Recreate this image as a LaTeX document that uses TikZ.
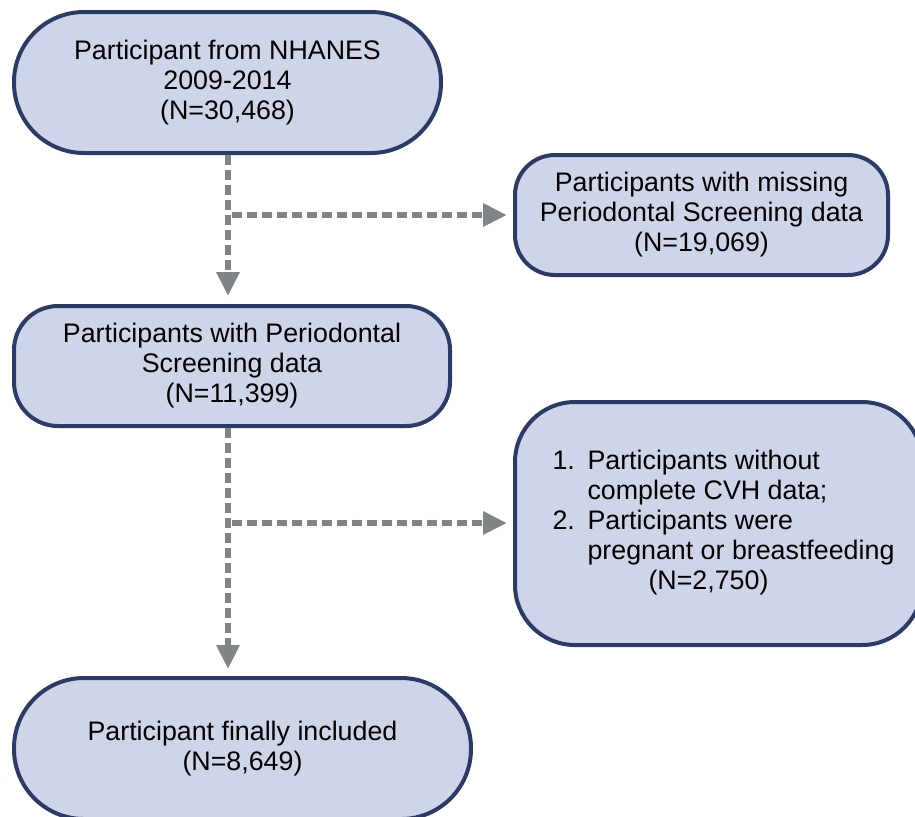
\documentclass[tikz,border=0pt]{standalone}
\usepackage{fontspec}
\setmainfont{Liberation Sans}
\usetikzlibrary{arrows.meta}
\usepackage{xcolor}
\definecolor{box_fill}{HTML}{CFD5E8}
\definecolor{box_line}{HTML}{2B3A67}
\definecolor{arrow_grey}{HTML}{7F8487}

\tikzset{
	flowbox/.style={draw=box_line, fill=box_fill, line width=2pt, rounded corners=#1, align=center, inner sep=0pt, font=\fontsize{13.4}{15}\selectfont},
	flowarrow/.style={draw=arrow_grey, line width=3pt, dash pattern=on 5pt off 2.5pt, -{Triangle[width=11pt,length=12pt]}},
}

\begin{document}
\begin{tikzpicture}[x=0.5pt, y=-0.5pt]
	\useasboundingbox (0,0) rectangle (915,816);
	\clip (0,0) rectangle (915,816);
	\node[flowbox=35pt, minimum width=213.5pt, minimum height=70.5pt] (nhanes) at (227.5,82.5) {Participant from NHANES\\2009-2014\\(N=30,468)};
	\node[flowbox=20pt, minimum width=186.5pt, minimum height=60pt] (missing) at (701.5,215) {Participants with missing\\Periodontal Screening data\\(N=19,069)};
	\node[flowbox=22pt, minimum width=218pt, minimum height=60pt] (screen) at (232,366) {Participants with Periodontal\\Screening data\\(N=11,399)};
	\node[flowbox=30pt, minimum width=203.5pt, minimum height=121.5pt] (exclude) at (718.5,523.5) {%
		\hspace{5pt}\begin{tabular}{@{}l@{}l@{}}
			\makebox[17.5pt][l]{1.} & Participants without\\
			 & complete CVH data;\\
			\makebox[17.5pt][l]{2.} & Participants were\\
			 & pregnant or breastfeeding\\
			\multicolumn{2}{@{}l@{}}{\hspace{48pt}(N=2,750)}
		\end{tabular}};
	\node[flowbox=35pt, minimum width=228.5pt, minimum height=70.5pt] (final) at (242.5,748.5) {Participant finally included\\(N=8,649)};
	\coordinate (split1) at (228,215);
	\coordinate (split2) at (228,523);
	\draw[flowarrow, shorten >=4pt] (nhanes.south -| split1) -- (screen.north -| split1);
	\draw[flowarrow, shorten >=3pt] ([xshift=2pt]split1) -- (missing.west |- split1);
	\draw[flowarrow, shorten >=3.5pt] (screen.south -| split2) -- (final.north -| split2);
	\draw[flowarrow, shorten >=3pt] ([xshift=2pt]split2) -- (exclude.west |- split2);
\end{tikzpicture}
\end{document}
